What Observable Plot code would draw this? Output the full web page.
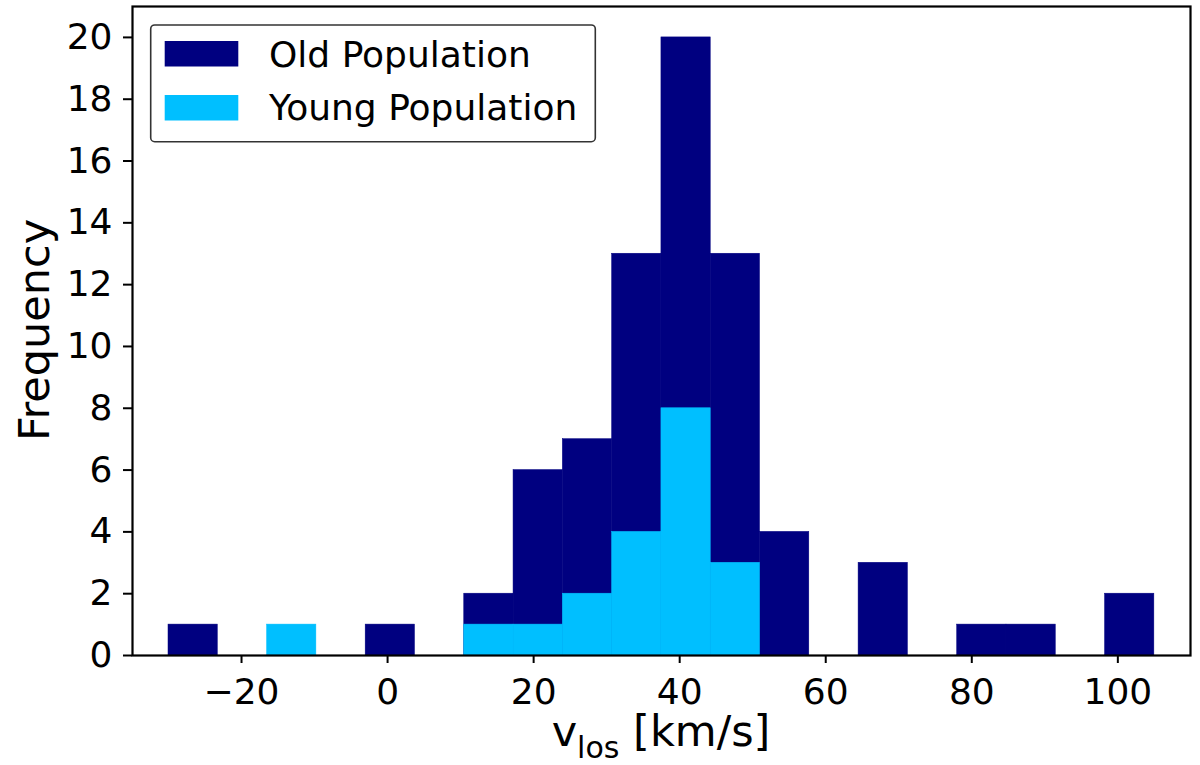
<!DOCTYPE html>
<html>
<head>
<meta charset="utf-8">
<script src="https://cdn.jsdelivr.net/npm/d3@7"></script>
<script src="https://cdn.jsdelivr.net/npm/@observablehq/plot@0.6"></script>
<style>
  body { margin: 0; background: white; }
</style>
</head>
<body>
<div id="chart"></div>
<script>
// bordes de los bins (20 bins de -30 a 105)
const binEdges = [-30, -23.25, -16.5, -9.75, -3, 3.75, 10.5, 17.25, 24, 30.75, 37.5,
  44.25, 51, 57.75, 64.5, 71.25, 78, 84.75, 91.5, 98.25, 105];

// cuentas por bin
const oldCounts = [1, 0, 0, 0, 1, 0, 2, 6, 7, 13, 20, 13, 4, 0, 3, 0, 1, 1, 0, 2];
const youngCounts = [0, 0, 1, 0, 0, 0, 1, 1, 2, 4, 8, 3, 0, 0, 0, 0, 0, 0, 0, 0];

const seriesNames = ["Old Population", "Young Population"];
const seriesColors = ["#000080", "#00bfff"];

const xTicks = [-20, 0, 20, 40, 60, 80, 100];
const yTicks = [0, 2, 4, 6, 8, 10, 12, 14, 16, 18, 20];

// armo las barras a partir de los bins
const toBars = counts => counts
  .map((c, i) => ({ x1: binEdges[i], x2: binEdges[i + 1], y1: 0, y2: c }))
  .filter(d => d.y2 > 0);

const oldBars = toBars(oldCounts);
const youngBars = toBars(youngCounts);

const font = "DejaVu Sans";

let chart = Plot.plot({
  width: 1200,
  height: 765,
  marginLeft: 132,
  marginRight: 10,
  marginTop: 6,
  marginBottom: 110,
  x: { domain: [-34.93, 109.95] },
  y: { domain: [0, 21] },
  style: { fontFamily: font, background: "white", color: "black" },
  marks: [
    Plot.rect(oldBars, {
      x1: "x1", x2: "x2", y1: "y1", y2: "y2", inset: 0,
      fill: seriesColors[0], stroke: seriesColors[0], strokeWidth: 0.5
    }),
    Plot.rect(youngBars, {
      x1: "x1", x2: "x2", y1: "y1", y2: "y2", inset: 0,
      fill: seriesColors[1], stroke: seriesColors[1], strokeWidth: 0.5
    }),
    Plot.frame({ stroke: "black", strokeWidth: 2.2 }),
    Plot.axisX({
      ticks: xTicks, tickSize: 8, tickPadding: 15, fontSize: 36, strokeWidth: 2, label: null,
      tickFormat: d => d < 0 ? "\u2212" + (-d) : String(d)
    }),
    Plot.axisY({ ticks: yTicks, tickSize: 9, tickPadding: 11, fontSize: 36, strokeWidth: 2, label: null })
  ]
});

const svg = d3.select(chart);

// etiqueta del eje x con subindice
const xl = svg.append("text")
  .attr("x", 661).attr("y", 746)
  .attr("text-anchor", "middle")
  .attr("font-family", font).attr("font-size", 43).attr("fill", "black");
xl.append("tspan").text("v");
xl.append("tspan").attr("font-size", 30).attr("dy", 12).text("los");
xl.append("tspan").attr("dy", -12).text(" [km/s]");

// etiqueta del eje y
svg.append("text")
  .attr("transform", "translate(49,330) rotate(-90)")
  .attr("text-anchor", "middle")
  .attr("font-family", font).attr("font-size", 43).attr("fill", "black")
  .text("Frequency");

// leyenda
const lg = svg.append("g").attr("text-anchor", "start");
lg.append("rect")
  .attr("x", 150.7).attr("y", 25).attr("width", 444.6).attr("height", 116.7)
  .attr("rx", 4).attr("fill", "white").attr("stroke", "#333").attr("stroke-width", 1.6);
seriesNames.forEach((name, i) => {
  lg.append("rect")
    .attr("x", 164.7).attr("y", 41 + i * 54).attr("width", 73.6).attr("height", 25.5)
    .attr("fill", seriesColors[i]);
  lg.append("text")
    .attr("x", 269).attr("y", 66.5 + i * 53.5)
    .attr("text-anchor", "start")
    .attr("font-family", font).attr("font-size", 36).attr("fill", "black")
    .text(name);
});

d3.select('#chart').append(() => chart);
</script>
</body>
</html>
